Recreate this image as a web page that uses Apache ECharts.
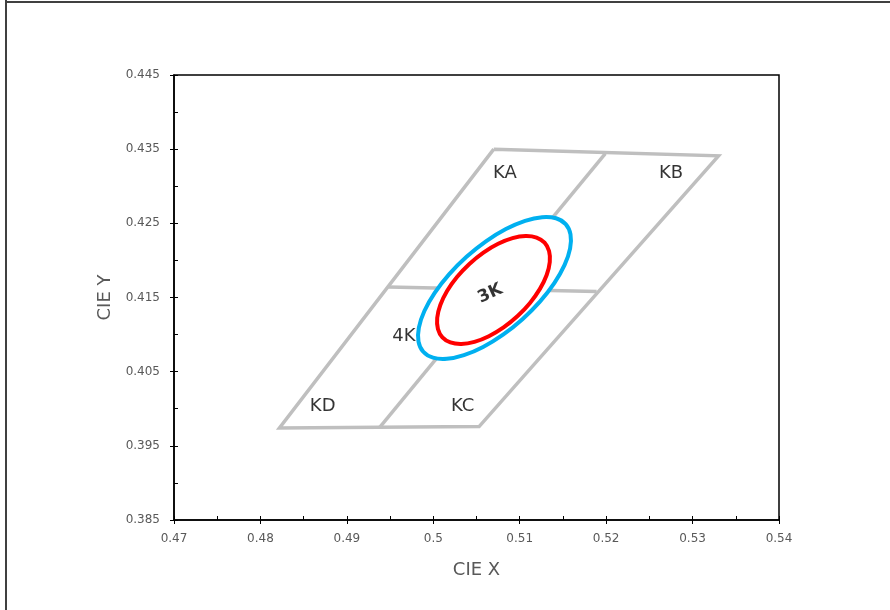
<!DOCTYPE html>
<html>
<head>
<meta charset="utf-8">
<script src="https://cdn.jsdelivr.net/npm/echarts@6/dist/echarts.min.js"></script>
<style>
html,body{margin:0;padding:0;background:#fff;}
#chart{width:890px;height:610px;}
</style>
</head>
<body>
<div id="chart"></div>
<script>
// Axis ticks
const xTicks = [0.47, 0.48, 0.49, 0.5, 0.51, 0.52, 0.53, 0.54];
const yTicks = [0.385, 0.395, 0.405, 0.415, 0.425, 0.435, 0.445];

// Bin quadrangle (outer outline, closed)
const binOutline = [[0.5070, 0.4350], [0.5330, 0.4341], [0.5053, 0.3976], [0.4822, 0.3974], [0.5070, 0.4350]];
// Divider lines inside the quadrangle
const dividerSlant = [[0.5199, 0.4344], [0.4938, 0.3975]];
const dividerHoriz = [[0.4948, 0.4164], [0.5189, 0.4158]];

// 4-step ellipse (blue) outline points
const ellipse4K = [
  [0.515319, 0.424884], [0.515875, 0.423502], [0.515832, 0.421628], [0.515194, 0.419390],
  [0.514002, 0.416940], [0.512338, 0.414444], [0.510317, 0.412075], [0.508076, 0.409992],
  [0.505764, 0.408338], [0.503545, 0.407226], [0.501567, 0.406729], [0.499964, 0.406884],
  [0.498845, 0.407680], [0.498289, 0.409062], [0.498332, 0.410936], [0.498970, 0.413174],
  [0.500162, 0.415624], [0.501826, 0.418120], [0.503847, 0.420489], [0.506088, 0.422572],
  [0.508400, 0.424226], [0.510619, 0.425338], [0.512597, 0.425835], [0.514200, 0.425680]
];
// 3-step ellipse (red) outline points
const ellipse3K = [
  [0.512875, 0.422389], [0.513395, 0.421263], [0.513479, 0.419777], [0.513118, 0.418038],
  [0.512338, 0.416160], [0.511191, 0.414271], [0.509757, 0.412501], [0.508132, 0.410971],
  [0.506428, 0.409783], [0.504762, 0.409021], [0.503244, 0.408735], [0.501980, 0.408945],
  [0.501057, 0.409637], [0.500537, 0.410763], [0.500453, 0.412249], [0.500814, 0.413988],
  [0.501594, 0.415866], [0.502741, 0.417755], [0.504175, 0.419525], [0.505800, 0.421055],
  [0.507504, 0.422243], [0.509170, 0.423005], [0.510688, 0.423291], [0.511952, 0.423081]
];

// Region labels (name, x, y in data units)
const regionLabelNames = ['KA', 'KB', 'KD', 'KC', '4K'];
const regionLabelX = [0.5083, 0.5275, 0.4872, 0.5034, 0.4966];
const regionLabelY = [0.4318, 0.4318, 0.4003, 0.4003, 0.4097];
const centerLabelName = '3K';
const centerLabelXY = [0.5066, 0.4155];

const chart = echarts.init(document.getElementById('chart'), null, { renderer: 'canvas' });

const FONT = 'DejaVu Sans';
const labelColor = '#595959';

function baseX(extra) {
  return Object.assign({
    type: 'value',
    min: xTicks[0],
    max: xTicks[xTicks.length - 1],
    interval: 0.01,
    splitLine: { show: false },
  }, extra);
}
function baseY(extra) {
  return Object.assign({
    type: 'value',
    min: yTicks[0],
    max: yTicks[yTicks.length - 1],
    interval: 0.01,
    splitLine: { show: false },
  }, extra);
}

function ellipseSeries(name, pts, color) {
  return {
    type: 'custom', name: name, silent: true, z: 3,
    data: [pts[0]],
    renderItem: function (params, api) {
      const p = pts.map(d => api.coord(d));
      return {
        type: 'polygon',
        shape: { points: p, smooth: 0.35 },
        style: { fill: '#fff', stroke: color, lineWidth: 4 }
      };
    }
  };
}

const option = {
  animation: false,
  backgroundColor: '#fff',
  grid: {
    left: 174, top: 75, right: 111, bottom: 90,
    show: true, borderColor: '#000', borderWidth: 1.5, backgroundColor: 'transparent'
  },
  xAxis: [
    baseX({
      position: 'bottom',
      name: 'CIE X', nameLocation: 'middle', nameGap: 41,
      nameTextStyle: { color: labelColor, fontSize: 18, fontFamily: FONT },
      axisLine: { show: true, lineStyle: { color: '#000', width: 1.5 } },
      axisTick: { show: true, inside: false, length: 4, lineStyle: { color: '#000', width: 1 } },
      axisLabel: { color: labelColor, fontSize: 12, fontFamily: FONT, margin: 13,
        formatter: v => { const t = xTicks.find(k => Math.abs(k - v) < 1e-9); return t === undefined ? '' : String(t); } }
    }),
    baseX({
      position: 'bottom', gridIndex: 0,
      axisLine: { show: false },
      axisTick: { show: true, inside: true, length: 4, lineStyle: { color: '#000', width: 1 } },
      minorTick: { show: true, splitNumber: 2, length: 4, lineStyle: { color: '#000', width: 1 } },
      axisLabel: { show: false }
    })
  ],
  yAxis: [
    baseY({
      position: 'left',
      name: 'CIE Y', nameLocation: 'middle', nameGap: 59, nameRotate: 90,
      nameTextStyle: { color: labelColor, fontSize: 18, fontFamily: FONT },
      axisLine: { show: true, lineStyle: { color: '#000', width: 1.5 } },
      axisTick: { show: true, inside: false, length: 4, lineStyle: { color: '#000', width: 1 } },
      axisLabel: { color: labelColor, fontSize: 12, fontFamily: FONT, margin: 14,
        formatter: v => { const t = yTicks.find(k => Math.abs(k - v) < 1e-9); return t === undefined ? '' : t.toFixed(3); } }
    }),
    baseY({
      position: 'left', gridIndex: 0,
      axisLine: { show: false },
      axisTick: { show: true, inside: true, length: 4, lineStyle: { color: '#000', width: 1 } },
      minorTick: { show: true, splitNumber: 2, length: 4, lineStyle: { color: '#000', width: 1 } },
      axisLabel: { show: false }
    })
  ],
  series: [
    { type: 'line', name: 'bins', data: binOutline, symbol: 'none', silent: true, z: 2,
      lineStyle: { color: '#BFBFBF', width: 3.5, join: 'miter' } },
    { type: 'line', name: 'divA', data: dividerSlant, symbol: 'none', silent: true, z: 2,
      lineStyle: { color: '#BFBFBF', width: 3.5 } },
    { type: 'line', name: 'divB', data: dividerHoriz, symbol: 'none', silent: true, z: 2,
      lineStyle: { color: '#BFBFBF', width: 3.5 } },
    ellipseSeries('4K', ellipse4K, '#00B0F0'),
    ellipseSeries('3K', ellipse3K, '#FF0000'),
    { type: 'scatter', name: 'labels', symbolSize: 0, silent: true, z: 5,
      data: regionLabelNames.map((n, i) => ({ name: n, value: [regionLabelX[i], regionLabelY[i]] })),
      label: { show: true, position: 'inside', formatter: p => p.name,
        color: '#000', fontSize: 18, fontFamily: FONT } },
    { type: 'scatter', name: 'center', symbolSize: 0, silent: true, z: 5,
      data: [{ name: centerLabelName, value: centerLabelXY }],
      label: { show: true, position: 'inside', formatter: p => p.name, rotate: 25,
        color: '#000', fontSize: 17, fontWeight: 'bold', fontFamily: FONT } }
  ],
  graphic: [
    { type: 'line', shape: { x1: 6, y1: 0, x2: 6, y2: 610 }, style: { stroke: '#404040', lineWidth: 2 } },
    { type: 'line', shape: { x1: 6, y1: 2, x2: 890, y2: 2 }, style: { stroke: '#404040', lineWidth: 2 } }
  ]
};
chart.setOption(option);
</script>
</body>
</html>
